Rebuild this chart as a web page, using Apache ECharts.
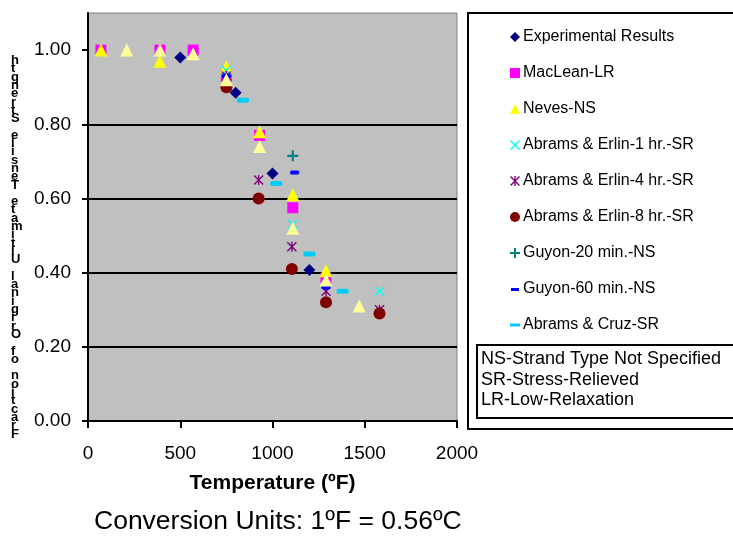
<!DOCTYPE html>
<html>
<head>
<meta charset="utf-8">
<script src="https://cdn.jsdelivr.net/npm/echarts@6/dist/echarts.min.js"></script>
<style>
html, body { margin: 0; padding: 0; background: #fff; }
#container { width: 733px; height: 538px; }
</style>
</head>
<body>
<div id="container"></div>
<script>
// temperature (F) / fraction of original strength
var expTemp = [500, 800, 1000, 1200];
var expVal = [0.98, 0.885, 0.667, 0.407];
var macTemp = [70, 390, 570, 750, 930, 1110, 1290];
var macVal = [1.00, 1.00, 1.00, 0.93, 0.77, 0.575, 0.385];
var nevesTemp = [70, 390, 750, 930, 1110, 1290];
var nevesVal = [1.00, 0.97, 0.955, 0.78, 0.61, 0.405];
var ae1Temp = [750, 1110, 1580];
var ae1Val = [0.945, 0.53, 0.35];
var ae4Temp = [750, 925, 1105, 1290, 1580];
var ae4Val = [0.93, 0.65, 0.47, 0.35, 0.30];
var ae8Temp = [750, 925, 1105, 1290, 1580];
var ae8Val = [0.90, 0.60, 0.41, 0.32, 0.29];
var g20Temp = [1110];
var g20Val = [0.715];
var g60Temp = [750, 1120, 1290];
var g60Val = [0.93, 0.67, 0.36];
var cruzTemp = [840, 1020, 1200, 1380];
var cruzVal = [0.865, 0.64, 0.45, 0.35];
var paleTemp = [210, 390, 570, 750, 930, 1110, 1290, 1470];
var paleVal = [1.00, 1.00, 0.99, 0.92, 0.74, 0.52, 0.38, 0.31];

var seriesNames = ['Experimental Results', 'MacLean-LR', 'Neves-NS', 'Abrams & Erlin-1 hr.-SR',
	'Abrams & Erlin-4 hr.-SR', 'Abrams & Erlin-8 hr.-SR', 'Guyon-20 min.-NS',
	'Guyon-60 min.-NS', 'Abrams & Cruz-SR'];
var yTicks = [0, 0.2, 0.4, 0.6, 0.8, 1.0];
var yTitle = 'Fraction of Original Ultimate Tensile Strength';
var noteLines = ['NS-Strand Type Not Specified', 'SR-Stress-Relieved', 'LR-Low-Relaxation'];

var crossPath = 'path://M0,1L1,0L10,9L9,10Z M9,0L10,1L1,10L0,9Z';
var starPath = 'path://M0,1L1,0L10,9L9,10Z M9,0L10,1L1,10L0,9Z M4.3,0L5.7,0L5.7,10L4.3,10Z';
var plusPath = 'path://M4,0L6,0L6,4L10,4L10,6L6,6L6,10L4,10L4,6L0,6L0,4L4,4Z';
var dashSmall = 'path://M0,4L8,4L8,7L0,7Z M0,0L0.01,0 M0,10L0.01,10';
var dashWide = 'path://M0,3.5L10,3.5L10,6.5L0,6.5Z';

function pairs(xs, ys) {
	var out = [];
	for (var i = 0; i < xs.length; i++) {
		out.push([xs[i], ys[i]]);
	}
	return out;
}

function scatter(name, xs, ys, symbol, size, color) {
	return {
		name : name,
		type : 'scatter',
		symbol : symbol,
		symbolSize : size,
		itemStyle : { color : color, opacity : 1 },
		data : pairs(xs, ys)
	};
}

var legendIcons = ['diamond', 'rect', 'triangle', crossPath, starPath, 'circle', plusPath, dashSmall, dashWide];
var legendData = [];
for (var i = 0; i < seriesNames.length; i++) {
	legendData.push({ name : seriesNames[i], icon : legendIcons[i] });
}

var dom = document.getElementById('container');
var myChart = echarts.init(dom, null, { renderer : 'canvas' });

var option = {
	animation : false,
	backgroundColor : '#fff',
	textStyle : { fontFamily : 'Liberation Sans, Arial, sans-serif' },
	grid : {
		left : 88,
		right : 276,
		top : 13,
		bottom : 117,
		show : true,
		backgroundColor : '#C0C0C0',
		borderColor : '#808080',
		borderWidth : 1
	},
	legend : {
		orient : 'vertical',
		left : 510,
		top : 29,
		padding : 0,
		itemWidth : 10,
		itemHeight : 10,
		itemGap : 20,
		textStyle : { fontSize : 16, color : '#000', padding : [0, 0, 0, -2] },
		data : legendData
	},
	xAxis : {
		type : 'value',
		min : 0,
		max : 2000,
		interval : 500,
		name : 'Temperature (ºF)',
		nameLocation : 'middle',
		nameGap : 52,
		nameTextStyle : { fontSize : 21, fontWeight : 'bold', color : '#000' },
		axisLine : { lineStyle : { color : '#000', width : 2 } },
		axisTick : { inside : false, length : 7, lineStyle : { color : '#000', width : 2 } },
		axisLabel : {
			fontSize : 19, color : '#000', margin : 23,
			formatter : function(v) { return String(v); }
		},
		splitLine : { show : false }
	},
	yAxis : {
		type : 'value',
		min : 0,
		max : 1.1,
		interval : 0.2,
		axisLine : { show : true, lineStyle : { color : '#000', width : 2 } },
		axisTick : { show : true, length : 6, lineStyle : { color : '#000', width : 2 }, customValues : yTicks },
		axisLabel : {
			fontSize : 19, color : '#000', margin : 17, customValues : yTicks,
			formatter : function(v) { return v.toFixed(2); }
		},
		splitLine : { show : true, showMinLine : false, showMaxLine : false, lineStyle : { color : '#000', width : 2 } }
	},
	graphic : [ {
		type : 'rect',
		shape : { x : 468, y : 13, width : 270, height : 416 },
		style : { fill : 'none', stroke : '#000', lineWidth : 2 },
		z : 1
	}, {
		type : 'rect',
		shape : { x : 477, y : 345, width : 270, height : 73 },
		style : { fill : 'none', stroke : '#000', lineWidth : 2 },
		z : 1
	}, {
		type : 'text',
		left : 481,
		top : 349,
		style : { text : noteLines.join('\n'), font : '18px Liberation Sans, Arial', lineHeight : 20.5, fill : '#000' }
	}, {
		type : 'text',
		left : 94,
		top : 508,
		style : { text : 'Conversion Units: 1ºF = 0.56ºC', font : '26.5px Liberation Sans, Arial', fill : '#000' }
	}, {
		type : 'text',
		left : 11,
		top : 54,
		style : {
			text : yTitle.split('').reverse().join('\n'),
			font : 'bold 13px Liberation Sans, Arial',
			lineHeight : 8.3,
			align : 'center',
			fill : '#000'
		}
	} ],
	series : [
		scatter(seriesNames[0], expTemp, expVal, 'diamond', 12, '#000080'),
		scatter(seriesNames[1], macTemp, macVal, 'rect', 11, '#FF00FF'),
		scatter(seriesNames[2], nevesTemp, nevesVal, 'triangle', 13, '#FFFF00'),
		scatter(seriesNames[3], ae1Temp, ae1Val, crossPath, 10, '#00FFFF'),
		scatter(seriesNames[4], ae4Temp, ae4Val, starPath, 10, '#800080'),
		scatter(seriesNames[5], ae8Temp, ae8Val, 'circle', 12, '#800000'),
		scatter(seriesNames[6], g20Temp, g20Val, plusPath, 11, '#008080'),
		scatter(seriesNames[7], g60Temp, g60Val, 'roundRect', [9, 4], '#0000FF'),
		scatter(seriesNames[8], cruzTemp, cruzVal, 'roundRect', [12, 5], '#00CCFF'),
		scatter('Series 10', paleTemp, paleVal, 'triangle', 13, '#FFFF99')
	]
};
myChart.setOption(option, true);
</script>
</body>
</html>
